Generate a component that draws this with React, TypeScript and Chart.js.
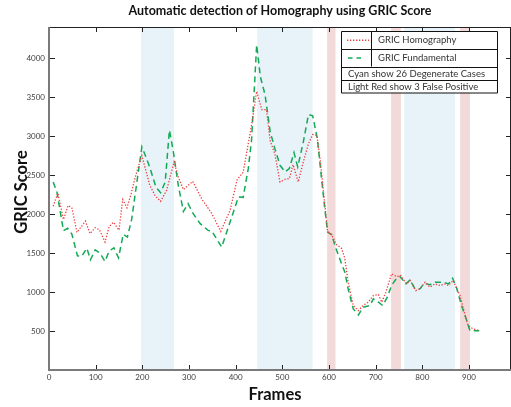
import React, { useEffect, useRef } from "react";
import { Chart, registerables } from "chart.js";
Chart.register(...registerables);

const homFrames = [9, 19, 31, 41, 49, 60, 78, 88, 99, 108, 120, 129, 138, 150, 158, 167, 176, 186, 199, 216, 227, 239, 252, 268, 277, 288, 308, 327, 349, 368, 388, 403, 416, 427, 434, 445, 456, 466, 474, 484, 495, 506, 515, 523, 534, 545, 556, 565, 574, 582, 588, 597, 606, 616, 627, 634, 641, 652, 663, 673, 684, 695, 706, 713, 722, 734, 745, 754, 766, 774, 786, 795, 806, 816, 827, 838, 849, 856, 866, 881, 888, 898, 909, 922];
const homValues = [2100, 2270, 1930, 2110, 2080, 1765, 1910, 1750, 1825, 1800, 1641, 1840, 1895, 1795, 2187, 2080, 2260, 2500, 2750, 2368, 2240, 2163, 2304, 2669, 2477, 2314, 2420, 2198, 2005, 1778, 2048, 2440, 2535, 2904, 3140, 3575, 3340, 3340, 2940, 2770, 2412, 2446, 2455, 2635, 2412, 2669, 2904, 3020, 3011, 2650, 2300, 1780, 1730, 1610, 1560, 1430, 1127, 827, 762, 827, 870, 955, 968, 870, 999, 1234, 1199, 1212, 1105, 1148, 1019, 1041, 1127, 1063, 1105, 1084, 1105, 1084, 1148, 955, 784, 569, 527, 505];

const funFrames = [9, 17, 31, 40, 49, 61, 70, 81, 89, 99, 109, 120, 129, 139, 149, 159, 168, 177, 199, 209, 216, 229, 239, 249, 258, 266, 277, 288, 298, 309, 324, 341, 349, 359, 370, 388, 406, 416, 427, 434, 445, 453, 463, 474, 484, 495, 506, 515, 525, 533, 545, 556, 565, 575, 584, 591, 597, 606, 613, 624, 634, 641, 652, 663, 673, 688, 695, 706, 715, 725, 734, 745, 752, 765, 774, 784, 795, 804, 816, 827, 845, 856, 865, 874, 884, 894, 902, 922];
const funValues = [2410, 2283, 1786, 1817, 1743, 1465, 1456, 1563, 1414, 1542, 1500, 1393, 1526, 1568, 1439, 1740, 1705, 1928, 2862, 2712, 2600, 2348, 2275, 2411, 3076, 2819, 2369, 2034, 2134, 2005, 1877, 1791, 1783, 1684, 1577, 1898, 2220, 2215, 2583, 2947, 4170, 3760, 3530, 3055, 2840, 2626, 2541, 2584, 2789, 2605, 2926, 3277, 3260, 2969, 2455, 2069, 1770, 1735, 1590, 1410, 1255, 1041, 784, 707, 805, 827, 913, 870, 827, 934, 1084, 1178, 1199, 1105, 1157, 1041, 1041, 1114, 1093, 1127, 1127, 1105, 1178, 1041, 827, 655, 505, 505];

const xTickValues = [0, 100, 200, 300, 400, 500, 600, 700, 800, 900];
const yTickValues = [500, 1000, 1500, 2000, 2500, 3000, 3500, 4000];
const cyanBands = [[197, 268], [446, 565], [761, 870]];
const redBands = [[596, 614], [733, 754], [881, 902]];

const titleText = "Automatic detection of Homography using GRIC Score";
const xTitle = "Frames";
const yTitle = "GRIC Score";
const seriesNames = ["GRIC Homography", "GRIC Fundamental"];
const noteRows = ["Cyan show 26 Degenerate Cases", "Light Red show 3 False Positive"];

const FONT = "Lato, 'Open Sans', sans-serif";
const RED = "#f03c3c";
const GREEN = "#14aa55";
const RED_DASH = [1.3, 1.7];
const GREEN_DASH = [6, 4];

const bandsPlugin = {
  id: "bands",
  beforeDatasetsDraw(chart: any) {
    const { ctx, chartArea, scales } = chart;
    const xs = scales.x;
    ctx.save();
    const draw = (bands: number[][], color: string) => {
      ctx.fillStyle = color;
      for (const [a, b] of bands) {
        const x1 = xs.getPixelForValue(a);
        const x2 = xs.getPixelForValue(b);
        ctx.fillRect(x1, chartArea.top, x2 - x1, chartArea.bottom - chartArea.top);
      }
    };
    draw(cyanBands, "#e7f3f8");
    draw(redBands, "#f2dada");
    ctx.restore();
  },
};

const framePlugin = {
  id: "frame",
  afterDatasetsDraw(chart: any) {
    const { ctx, chartArea, scales } = chart;
    const { left, right, top, bottom } = chartArea;
    ctx.save();
    ctx.strokeStyle = "#222";
    ctx.lineWidth = 1;
    ctx.beginPath();
    ctx.moveTo(left, top + 0.5);
    ctx.lineTo(right, top + 0.5);
    ctx.moveTo(right - 0.5, top);
    ctx.lineTo(right - 0.5, bottom);
    for (const v of xTickValues) {
      const x = Math.round(scales.x.getPixelForValue(v)) + 0.5;
      ctx.moveTo(x, bottom);
      ctx.lineTo(x, bottom - 5);
      ctx.moveTo(x, top);
      ctx.lineTo(x, top + 5);
    }
    for (const v of yTickValues) {
      const y = Math.round(scales.y.getPixelForValue(v)) + 0.5;
      ctx.moveTo(left, y);
      ctx.lineTo(left + 6, y);
      ctx.moveTo(right, y);
      ctx.lineTo(right - 5, y);
    }
    ctx.stroke();
    ctx.strokeStyle = "#7a7a7a";
    ctx.lineWidth = 2;
    ctx.beginPath();
    ctx.moveTo(left, top);
    ctx.lineTo(left, bottom);
    ctx.lineTo(right, bottom);
    ctx.stroke();
    ctx.restore();
  },
};

const textPlugin = {
  id: "texts",
  afterDraw(chart: any) {
    const { ctx, chartArea } = chart;
    ctx.save();
    ctx.fillStyle = "#111";
    ctx.textAlign = "center";
    ctx.textBaseline = "middle";
    ctx.font = `bold 12.5px ${FONT}`;
    ctx.fillText(titleText, (chartArea.left + chartArea.right) / 2, 11);
    ctx.font = `bold 16.5px ${FONT}`;
    ctx.fillText(xTitle, 275, 395);
    ctx.translate(22, 192);
    ctx.rotate(-Math.PI / 2);
    ctx.fillText(yTitle, 0, 0);
    ctx.restore();

    // legend box
    const L = 341, R = 497, T = 31;
    const rows = [T, 48.5, 66.5, 79.5, 92.5];
    ctx.save();
    ctx.fillStyle = "#fff";
    ctx.fillRect(L, T, R - L, rows[4] - T);
    ctx.strokeStyle = "#111";
    ctx.lineWidth = 1;
    ctx.beginPath();
    ctx.rect(L + 0.5, T + 0.5, R - L, rows[4] - T);
    for (let i = 1; i < 4; i++) {
      ctx.moveTo(L, Math.round(rows[i]) + 0.5);
      ctx.lineTo(R, Math.round(rows[i]) + 0.5);
    }
    ctx.moveTo(371.5, T);
    ctx.lineTo(371.5, rows[2]);
    ctx.stroke();

    const mid0 = (rows[0] + rows[1]) / 2 + 0.5;
    const mid1 = (rows[1] + rows[2]) / 2 + 0.5;
    ctx.lineWidth = 1.3;
    ctx.strokeStyle = RED;
    ctx.setLineDash(RED_DASH);
    ctx.beginPath();
    ctx.moveTo(347, mid0);
    ctx.lineTo(369, mid0);
    ctx.stroke();
    ctx.lineWidth = 1.5;
    ctx.strokeStyle = GREEN;
    ctx.setLineDash([4.5, 4]);
    ctx.beginPath();
    ctx.moveTo(348, mid1);
    ctx.lineTo(363, mid1);
    ctx.stroke();
    ctx.setLineDash([]);

    ctx.fillStyle = "#333";
    ctx.font = `9.5px ${FONT}`;
    ctx.textAlign = "left";
    ctx.textBaseline = "middle";
    ctx.fillText(seriesNames[0], 378, mid0);
    ctx.fillText(seriesNames[1], 378, mid1);
    ctx.fillText(noteRows[0], 348, (rows[2] + rows[3]) / 2 + 0.5);
    ctx.fillText(noteRows[1], 348, (rows[3] + rows[4]) / 2 + 0.5);
    ctx.restore();
  },
};

export default function App() {
  const ref = useRef<HTMLCanvasElement | null>(null);
  useEffect(() => {
    if (!ref.current) return;
    const tickFont = { family: FONT, size: 8 };
    const plain = (v: any) => String(v);
    const chart = new Chart(ref.current, {
      type: "line",
      data: {
        datasets: [
          {
            label: seriesNames[0],
            data: homFrames.map((f, i) => ({ x: f, y: homValues[i] })),
            borderColor: RED,
            borderWidth: 1.3,
            borderDash: RED_DASH,
            pointRadius: 0,
            fill: false,
            tension: 0,
          },
          {
            label: seriesNames[1],
            data: funFrames.map((f, i) => ({ x: f, y: funValues[i] })),
            borderColor: GREEN,
            borderWidth: 1.5,
            borderDash: GREEN_DASH,
            pointRadius: 0,
            fill: false,
            tension: 0,
          },
        ],
      },
      options: {
        responsive: false,
        animation: false,
        layout: { padding: { top: 27, left: 0, right: 0, bottom: 0 } },
        plugins: {
          legend: { display: false },
          title: { display: false },
          tooltip: { enabled: false },
        },
        scales: {
          x: {
            type: "linear",
            min: 0,
            max: 990,
            grid: { display: false, drawTicks: false },
            border: { display: false },
            ticks: { font: tickFont, color: "#404040", padding: 3, maxRotation: 0, autoSkip: false, callback: plain },
            afterBuildTicks: (s: any) => {
              s.ticks = xTickValues.map((v) => ({ value: v }));
            },
            afterFit: (s: any) => {
              s.height = 37;
            },
          },
          y: {
            type: "linear",
            min: 0,
            max: 4400,
            grid: { display: false, drawTicks: false },
            border: { display: false },
            ticks: { font: tickFont, color: "#404040", padding: 4, autoSkip: false, callback: plain },
            afterBuildTicks: (s: any) => {
              s.ticks = yTickValues.map((v) => ({ value: v }));
            },
            afterFit: (s: any) => {
              s.width = 49;
            },
          },
        },
      } as any,
      plugins: [bandsPlugin, framePlugin, textPlugin],
    });
    return () => chart.destroy();
  }, []);
  return (
    <div style={{ position: "fixed", left: 0, top: 0, width: 511, height: 407, background: "#fff" }}>
      <canvas ref={ref} width={511} height={407} style={{ display: "block" }} />
    </div>
  );
}
